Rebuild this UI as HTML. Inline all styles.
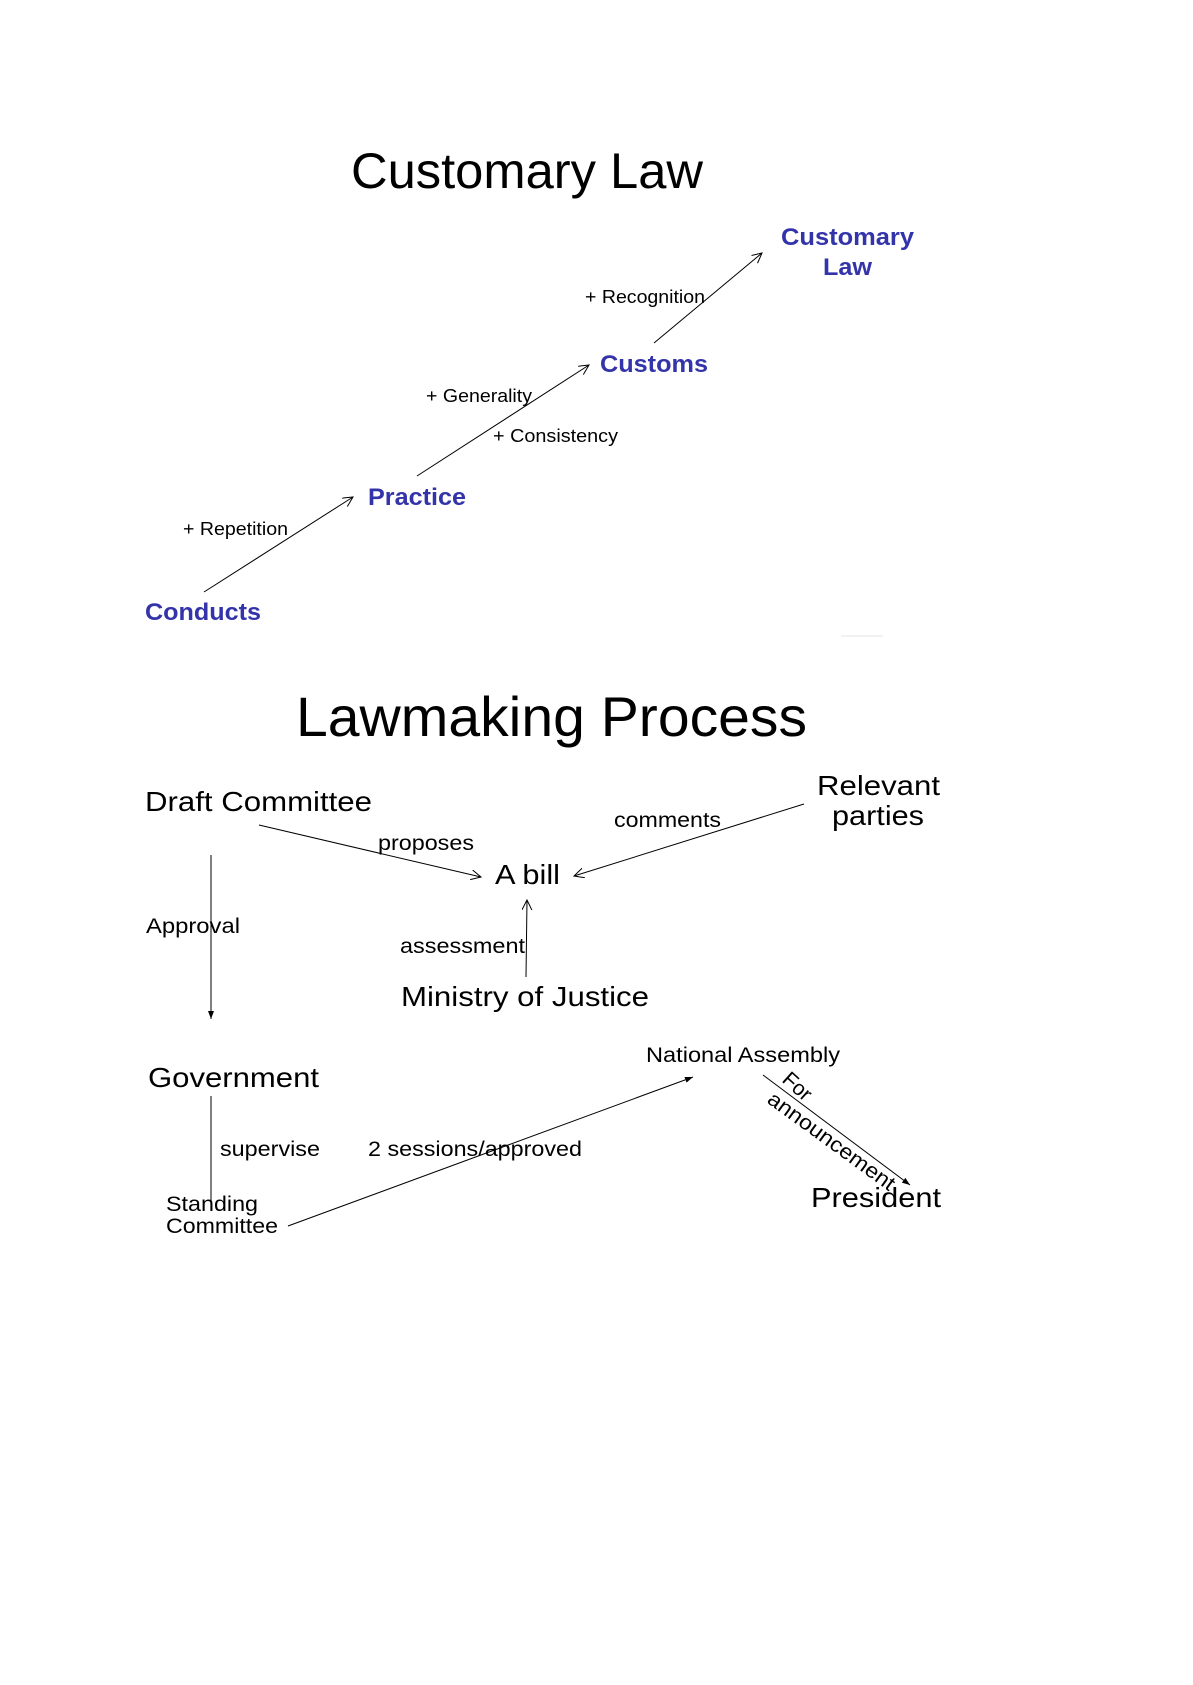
<!DOCTYPE html>
<html><head><meta charset="utf-8"><style>html,body{margin:0;padding:0;background:#fff}svg{display:block}</style></head>
<body>
<svg width="1193" height="1685" viewBox="0 0 1193 1685" xmlns="http://www.w3.org/2000/svg" font-family="'Liberation Sans', Arial, sans-serif">
<defs>
<marker id="open" markerWidth="12" markerHeight="12" refX="10" refY="5" orient="auto" markerUnits="userSpaceOnUse"><path d="M0,0 L10,5 L0,10" fill="none" stroke="#000" stroke-width="1"/></marker>
<marker id="fill" markerWidth="10" markerHeight="10" refX="8" refY="3" orient="auto" markerUnits="userSpaceOnUse"><path d="M0,0 L8,3 L0,6 Z" fill="#000"/></marker>
</defs>
<g fill="#000">
<text x="351" y="188" font-size="50" textLength="352" lengthAdjust="spacingAndGlyphs">Customary Law</text>
</g>
<g fill="#3333aa" font-weight="bold" font-size="24">
<text x="781" y="245" textLength="133" lengthAdjust="spacingAndGlyphs">Customary</text>
<text x="823" y="275" textLength="49" lengthAdjust="spacingAndGlyphs">Law</text>
<text x="600" y="372" textLength="108" lengthAdjust="spacingAndGlyphs">Customs</text>
<text x="368" y="505" textLength="98" lengthAdjust="spacingAndGlyphs">Practice</text>
<text x="145" y="620" textLength="116" lengthAdjust="spacingAndGlyphs">Conducts</text>
</g>
<g fill="#000" font-size="18">
<text x="585" y="303" textLength="120" lengthAdjust="spacingAndGlyphs">+ Recognition</text>
<text x="426" y="402" textLength="106" lengthAdjust="spacingAndGlyphs">+ Generality</text>
<text x="493" y="442" textLength="125" lengthAdjust="spacingAndGlyphs">+ Consistency</text>
<text x="183" y="535" textLength="105" lengthAdjust="spacingAndGlyphs">+ Repetition</text>
</g>
<g stroke="#000" stroke-width="1" fill="none">
<line x1="654" y1="343" x2="762" y2="253" marker-end="url(#open)"/>
<line x1="417" y1="476" x2="589" y2="365" marker-end="url(#open)"/>
<line x1="204" y1="592" x2="353" y2="497" marker-end="url(#open)"/>
</g>
<line x1="841" y1="636" x2="883" y2="636" stroke="#e6e6e6" stroke-width="1"/>

<g fill="#000">
<text x="296" y="736" font-size="56" textLength="511" lengthAdjust="spacingAndGlyphs">Lawmaking Process</text>
<text x="145" y="811" font-size="28" textLength="227" lengthAdjust="spacingAndGlyphs">Draft Committee</text>
<text x="817" y="795" font-size="28" textLength="123" lengthAdjust="spacingAndGlyphs">Relevant</text>
<text x="832" y="825" font-size="28" textLength="92" lengthAdjust="spacingAndGlyphs">parties</text>
<text x="614" y="827" font-size="21" textLength="107" lengthAdjust="spacingAndGlyphs">comments</text>
<text x="378" y="850" font-size="21" textLength="96" lengthAdjust="spacingAndGlyphs">proposes</text>
<text x="495" y="884" font-size="28" textLength="65" lengthAdjust="spacingAndGlyphs">A bill</text>
<text x="400" y="953" font-size="21" textLength="125" lengthAdjust="spacingAndGlyphs">assessment</text>
<text x="401" y="1006" font-size="28" textLength="248" lengthAdjust="spacingAndGlyphs">Ministry of Justice</text>
<text x="146" y="933" font-size="21" textLength="94" lengthAdjust="spacingAndGlyphs">Approval</text>
<text x="646" y="1062" font-size="21" textLength="194" lengthAdjust="spacingAndGlyphs">National Assembly</text>
<text x="148" y="1087" font-size="28" textLength="171" lengthAdjust="spacingAndGlyphs">Government</text>
<text x="220" y="1156" font-size="21" textLength="100" lengthAdjust="spacingAndGlyphs">supervise</text>
<text x="368" y="1156" font-size="21" textLength="214" lengthAdjust="spacingAndGlyphs">2 sessions/approved</text>
<text x="166" y="1211" font-size="21" textLength="92" lengthAdjust="spacingAndGlyphs">Standing</text>
<text x="166" y="1233" font-size="21" textLength="112" lengthAdjust="spacingAndGlyphs">Committee</text>
<text x="811" y="1207" font-size="28" textLength="130" lengthAdjust="spacingAndGlyphs">President</text>
<text transform="translate(781,1081) rotate(42)" font-size="21">For</text>
<text transform="translate(766,1102) rotate(36)" font-size="21" textLength="152" lengthAdjust="spacingAndGlyphs">announcement</text>
</g>
<g stroke="#000" stroke-width="1" fill="none">
<line x1="804" y1="804" x2="574" y2="876" marker-end="url(#open)"/>
<line x1="259" y1="825" x2="481" y2="877" marker-end="url(#open)"/>
<line x1="526" y1="977" x2="527" y2="900" marker-end="url(#open)"/>
<line x1="211" y1="855" x2="211" y2="1019" marker-end="url(#fill)"/>
<line x1="211" y1="1096" x2="211" y2="1202"/>
<line x1="288" y1="1226" x2="693" y2="1077" marker-end="url(#fill)"/>
<line x1="763" y1="1075" x2="910" y2="1185" marker-end="url(#fill)"/>
</g>
</svg>
</body></html>
